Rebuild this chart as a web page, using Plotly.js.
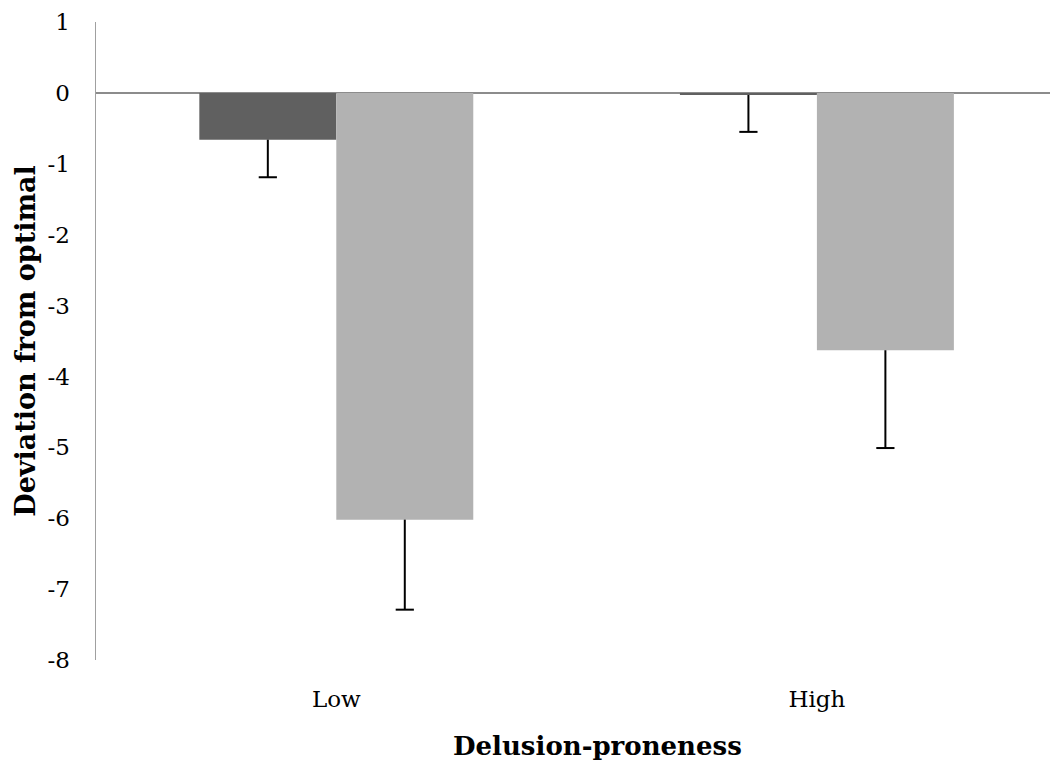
<!DOCTYPE html>
<html>
<head>
<meta charset="utf-8">
<script src="https://cdn.plot.ly/plotly-3.0.1.min.js"></script>
<style>html,body{margin:0;padding:0;background:#fff;}#chart{width:1050px;height:763px;}</style>
</head>
<body>
<div id="chart"></div>
<script>
const categories = ["Low", "High"];
const seriesA = [-0.66, -0.03];
const seriesAErr = [0.53, 0.52];
const seriesB = [-6.02, -3.63];
const seriesBErr = [1.27, 1.38];
const yTicks = [1, 0, -1, -2, -3, -4, -5, -6, -7, -8];

const FONT = "DejaVu Serif, Liberation Serif, serif";
const BARGAP = 0.43;
const barW = (1 - BARGAP) / 2;          // width of one bar in category units
const idx = categories.map((_, i) => i);

function barTrace(vals, errs, color) {
  return {
    type: "bar", x: idx, y: vals, marker: {color: color},
    hoverinfo: "skip",
    error_y: {type: "data", symmetric: false, array: vals.map(() => 0), arrayminus: errs,
      color: "#000", thickness: 2, width: 0}
  };
}
function capTrace(vals, errs, shift) {
  return {
    type: "scatter", mode: "markers",
    x: idx.map(i => i + shift), y: vals.map((v, i) => v - errs[i]),
    marker: {symbol: "line-ew", size: 13, line: {color: "#000", width: 2}},
    hoverinfo: "skip"
  };
}

const traces = [
  barTrace(seriesA, seriesAErr, "#606060"),
  barTrace(seriesB, seriesBErr, "#b2b2b2"),
  capTrace(seriesA, seriesAErr, -barW / 2),
  capTrace(seriesB, seriesBErr, barW / 2)
];

const layout = {
  width: 1050, height: 763,
  margin: {l: 96, r: 0, t: 22, b: 103},
  paper_bgcolor: "#fff", plot_bgcolor: "#fff",
  showlegend: false,
  barmode: "group", bargap: BARGAP, bargroupgap: 0,
  font: {family: FONT, color: "#000"},
  xaxis: {
    type: "linear", range: [-0.5, 1.485],
    tickvals: idx, ticktext: categories,
    showline: false, showgrid: false, zeroline: false,
    ticks: "outside", ticklen: 18, tickcolor: "rgba(0,0,0,0)",
    tickfont: {size: 23, family: FONT}
  },
  yaxis: {
    range: [-8, 1], tickvals: yTicks, ticktext: yTicks.map(String),
    showline: true, linecolor: "#a0a0a0", linewidth: 1.5,
    showgrid: false, zeroline: true, zerolinecolor: "#8c8c8c", zerolinewidth: 2,
    ticks: "outside", ticklen: 20, tickcolor: "rgba(0,0,0,0)",
    tickfont: {size: 23, family: FONT},
    title: {text: "<b>Deviation from optimal</b>", font: {size: 27, family: FONT}, standoff: 4}
  },
  annotations: [{
    text: "<b>Delusion-proneness</b>", xref: "paper", yref: "paper",
    x: 0.526, y: -0.108, xanchor: "center", yanchor: "top", showarrow: false,
    font: {size: 26, family: FONT, color: "#000"}
  }]
};

Plotly.newPlot("chart", traces, layout, {displayModeBar: false, staticPlot: true});
</script>
</body>
</html>
